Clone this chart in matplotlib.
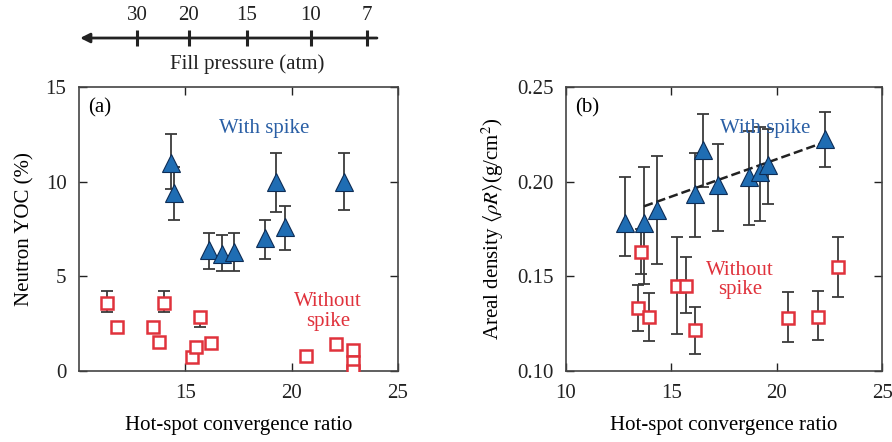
import numpy as np
import matplotlib
matplotlib.use("Agg")
import matplotlib.pyplot as plt

plt.rcParams['font.family'] = ['Liberation Serif', 'DejaVu Serif']
plt.rcParams['mathtext.fontset'] = 'stix'

# panel (a): neutron yield-over-clean
a_spike_x = [14.33, 14.48, 16.1, 16.7, 17.3, 18.76, 19.24, 19.67, 22.48]
a_spike_y = [11.0, 9.4, 6.4, 6.2, 6.3, 7.0, 10.0, 7.6, 10.0]
a_spike_lo = [9.6, 8.0, 5.4, 5.3, 5.3, 5.9, 8.4, 6.4, 8.5]
a_spike_hi = [12.5, 10.8, 7.3, 7.2, 7.3, 8.0, 11.5, 8.7, 11.5]

a_nospike_x = [11.33, 11.8, 13.48, 13.76, 14.0, 15.7, 15.3, 15.5, 16.2, 20.67, 22.1, 22.9, 22.9, 22.9]
a_nospike_y = [3.6, 2.3, 2.3, 1.55, 3.6, 2.85, 0.75, 1.25, 1.5, 0.8, 1.45, 1.1, 0.5, 0.0]
a_nospike_lo = [3.1, np.nan, np.nan, np.nan, 3.1, 2.3, np.nan, np.nan, np.nan, np.nan, np.nan, np.nan, np.nan, np.nan]
a_nospike_hi = [4.2, np.nan, np.nan, np.nan, 4.2, 2.85, np.nan, np.nan, np.nan, np.nan, np.nan, np.nan, np.nan, np.nan]

# panel (b): areal density
b_spike_x = [12.8, 13.7, 14.3, 16.1, 16.5, 17.2, 18.7, 19.2, 19.6, 22.3]
b_spike_y = [0.178, 0.178, 0.185, 0.1935, 0.2167, 0.198, 0.2025, 0.205, 0.2088, 0.2225]
b_spike_lo = [0.161, 0.146, 0.1565, 0.171, 0.197, 0.174, 0.177, 0.179, 0.188, 0.2077]
b_spike_hi = [0.2025, 0.208, 0.2135, 0.215, 0.2357, 0.22, 0.227, 0.229, 0.228, 0.2367]

b_nospike_x = [13.56, 13.4, 13.94, 15.27, 15.7, 16.12, 20.54, 21.96, 22.9]
b_nospike_y = [0.163, 0.1333, 0.1285, 0.145, 0.145, 0.1217, 0.128, 0.1285, 0.155]
b_nospike_lo = [0.151, 0.121, 0.116, 0.1195, 0.1306, 0.109, 0.1153, 0.1164, 0.139]
b_nospike_hi = [0.175, 0.1455, 0.141, 0.1707, 0.16, 0.134, 0.1417, 0.142, 0.1707]

fit_x = [13.7, 22.3]
fit_y = [0.187, 0.221]

# fill pressure scale (positions in convergence ratio)
press_pos = [12.73, 15.17, 17.90, 20.91, 23.54]
press_lab = ['30', '20', '15', '10', '7']

blue = '#1f6db3'
navy = '#0d2c55'
red = '#e0323c'
txt_blue = '#2a5fa5'
fs = 15


def draw(ax, x, y, lo, hi, marker, **kw):
    y = np.array(y)
    err = np.array([y - np.array(lo), np.array(hi) - y])
    ax.errorbar(x, y, yerr=err, fmt='none', ecolor='#3a3a3a', elinewidth=1.3,
                capsize=4, capthick=1.3, zorder=2)
    ax.plot(x, y, marker, linestyle='none', zorder=3, **kw)


fig = plt.figure(figsize=(8.92, 4.42), dpi=100)
ax1 = fig.add_axes([0.0886, 0.1606, 0.3576, 0.6425])
ax2 = fig.add_axes([0.6345, 0.1606, 0.3545, 0.6425])

draw(ax1, a_spike_x, a_spike_y, a_spike_lo, a_spike_hi, '^',
     ms=13, mfc=blue, mec=navy, mew=0.8)
draw(ax1, a_nospike_x, a_nospike_y, a_nospike_lo, a_nospike_hi, 's',
     ms=9, mfc='white', mec=red, mew=1.8)
ax1.set_xlim(10, 25)
ax1.set_ylim(0, 15)
ax1.set_xticks([15, 20, 25])
ax1.set_yticks([0, 5, 10, 15])
ax1.set_xlabel('Hot-spot convergence ratio', fontsize=fs, labelpad=10)
ax1.set_ylabel('Neutron YOC (%)', fontsize=fs, labelpad=8)
ax1.text(0.03, 0.96, '(a)', transform=ax1.transAxes, fontsize=fs, va='top')
ax1.text(0.58, 0.855, 'With spike', transform=ax1.transAxes, fontsize=fs,
         color=txt_blue, ha='center', va='center')
ax1.text(0.78, 0.21, 'Without\nspike', transform=ax1.transAxes, fontsize=fs,
         color=red, ha='center', va='center', linespacing=1.05)

draw(ax2, b_spike_x, b_spike_y, b_spike_lo, b_spike_hi, '^',
     ms=13, mfc=blue, mec=navy, mew=0.8)
draw(ax2, b_nospike_x, b_nospike_y, b_nospike_lo, b_nospike_hi, 's',
     ms=9, mfc='white', mec=red, mew=1.8)
ax2.plot(fit_x, fit_y, '--', color='#222222', lw=1.8, zorder=2.5)
ax2.set_xlim(10, 25)
ax2.set_ylim(0.10, 0.25)
ax2.set_xticks([10, 15, 20, 25])
ax2.set_yticks([0.10, 0.15, 0.20, 0.25])
ax2.set_yticklabels(['0.10', '0.15', '0.20', '0.25'])
ax2.set_xlabel('Hot-spot convergence ratio', fontsize=fs, labelpad=10)
ax2.set_ylabel(r'Areal density $\langle\rho R\rangle$(g/cm$^2$)', fontsize=fs, labelpad=8)
ax2.text(0.03, 0.96, '(b)', transform=ax2.transAxes, fontsize=fs, va='top')
ax2.text(0.63, 0.855, 'With spike', transform=ax2.transAxes, fontsize=fs,
         color=txt_blue, ha='center', va='center')
ax2.text(0.55, 0.32, 'Without\nspike', transform=ax2.transAxes, fontsize=fs,
         color=red, ha='center', va='center', linespacing=1.05)

for ax in (ax1, ax2):
    ax.tick_params(direction='in', length=6, width=1, top=True, right=True,
                   labelsize=fs, pad=9, colors='#222222')
    for s in ax.spines.values():
        s.set_color('#444444')
        s.set_linewidth(1.2)

# fill pressure axis on top of panel (a)
ax0 = fig.add_axes([0.0886, 0.80, 0.3576, 0.20])
ax0.set_xlim(10, 25)
ax0.set_ylim(0, 1)
ax0.axis('off')
ax0.annotate('', xy=(10.05, 0.57), xytext=(24.01, 0.57),
             arrowprops=dict(arrowstyle='-|>', color='#222222', lw=2,
                             mutation_scale=14, shrinkA=0, shrinkB=0))
ax0.plot(press_pos, [0.57] * len(press_pos), '|', color='#222222', ms=11, mew=2.2)
for p, lab in zip(press_pos, press_lab):
    ax0.text(p, 0.83, lab, fontsize=fs, ha='center', va='center', color='#222222')
ax0.text(17.9, 0.28, 'Fill pressure (atm)', fontsize=fs, ha='center', va='center',
         color='#222222')

fig.savefig('out.png', dpi=100)
